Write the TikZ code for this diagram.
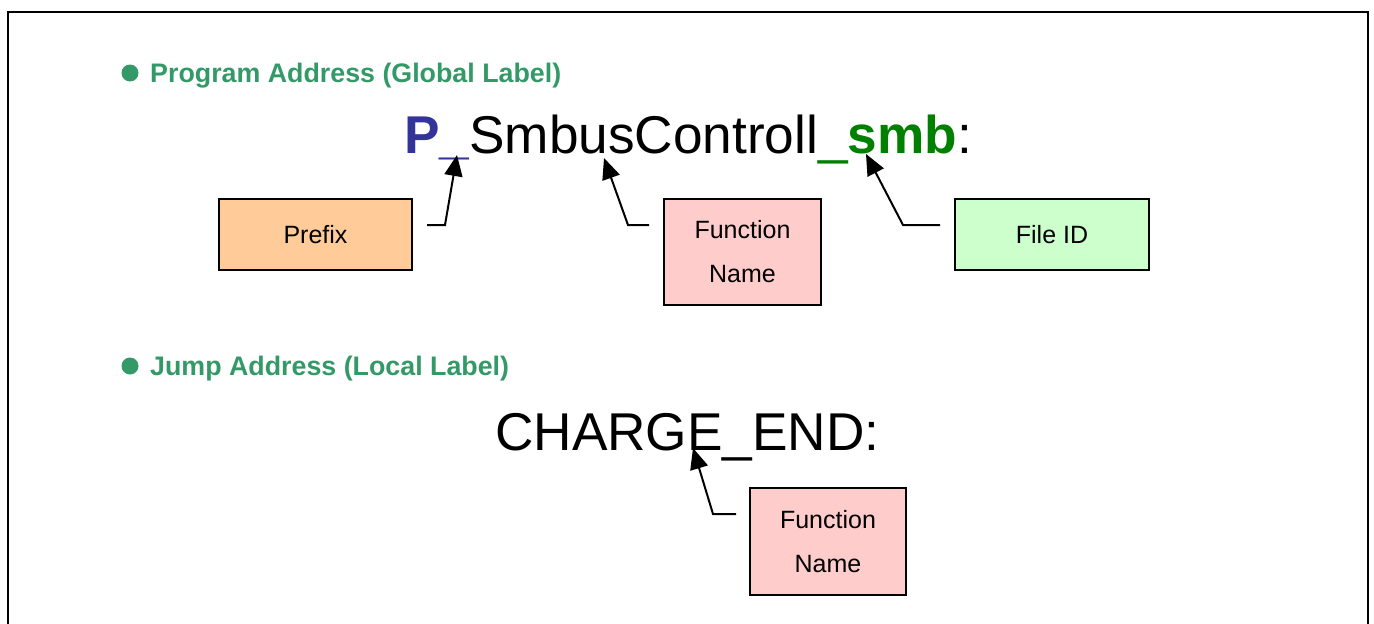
\documentclass[tikz,border=0pt]{standalone}
\usepackage{fontspec}
\setmainfont{Liberation Sans}
\usetikzlibrary{arrows.meta}
\definecolor{headgreen}{HTML}{339966}
\definecolor{pblue}{HTML}{333399}
\definecolor{idgreen}{HTML}{008000}
\definecolor{prefixfill}{HTML}{FFCC99}
\definecolor{funcfill}{HTML}{FFCCCC}
\definecolor{idfill}{HTML}{CCFFCC}
\tikzset{namebox/.style={draw, line width=2pt, inner sep=0pt, align=center, font=\fontsize{25}{44}\selectfont}}
\tikzset{pointer/.style={-{Triangle[length=21pt,width=18pt]}, line width=2pt}}
\tikzset{heading/.style={anchor=base west, inner sep=0pt, text=headgreen, font=\fontsize{26.8}{30}\selectfont\bfseries}}
\tikzset{headdot/.style={shape=circle, fill=headgreen, inner sep=0pt, minimum size=17pt}}
\tikzset{bigname/.style={anchor=base west, inner sep=0pt, font=\fontsize{53.2}{60}\selectfont}}

\begin{document}
\begin{tikzpicture}[x=1pt,y=-1pt]
\useasboundingbox (0,0) rectangle (1374,624);
\draw[line width=2pt] (8,624) -- (8,12) -- (1368,12) -- (1368,624);

% global label
\node[headdot] (d1) at (130,73) {};
\node[heading] (h1) at (150,82) {Program Address (Global Label)};
\node[bigname] (glabel) at (404,153) {\textcolor{pblue}{\bfseries P\_}SmbusControll\textcolor{idgreen}{\_\bfseries smb}:};

\node[namebox, fill=prefixfill, minimum width=193pt, minimum height=71pt] (prefix) at (315.5,234.5) {Prefix};
\node[namebox, fill=funcfill, minimum width=157pt, minimum height=106pt] (func) at (742.5,252) {Function\\Name};
\node[namebox, fill=idfill, minimum width=194pt, minimum height=71pt] (fileid) at (1052,234.5) {File ID};

\coordinate (p0) at (427,225);
\coordinate (p1) at (445,225);
\coordinate (p2) at (457,155);
\coordinate (f0) at (649,225);
\coordinate (f1) at (628,225);
\coordinate (f2) at (604,158);
\coordinate (i0) at (940,225);
\coordinate (i1) at (903,225);
\coordinate (i2) at (866,154);
\draw[pointer] (p0) -- (p1) -- (p2);
\draw[pointer] (f0) -- (f1) -- (f2);
\draw[pointer] (i0) -- (i1) -- (i2);

% local label
\node[headdot] (d2) at (130,366) {};
\node[heading] (h2) at (150,375) {Jump Address (Local Label)};
\node[bigname] (llabel) at (495,450) {CHARGE\_END:};

\node[namebox, fill=funcfill, minimum width=156pt, minimum height=107pt] (func2) at (828,541.5) {Function\\Name};

\coordinate (e0) at (736,514);
\coordinate (e1) at (713,514);
\coordinate (e2) at (693,448);
\draw[pointer] (e0) -- (e1) -- (e2);
\end{tikzpicture}
\end{document}
